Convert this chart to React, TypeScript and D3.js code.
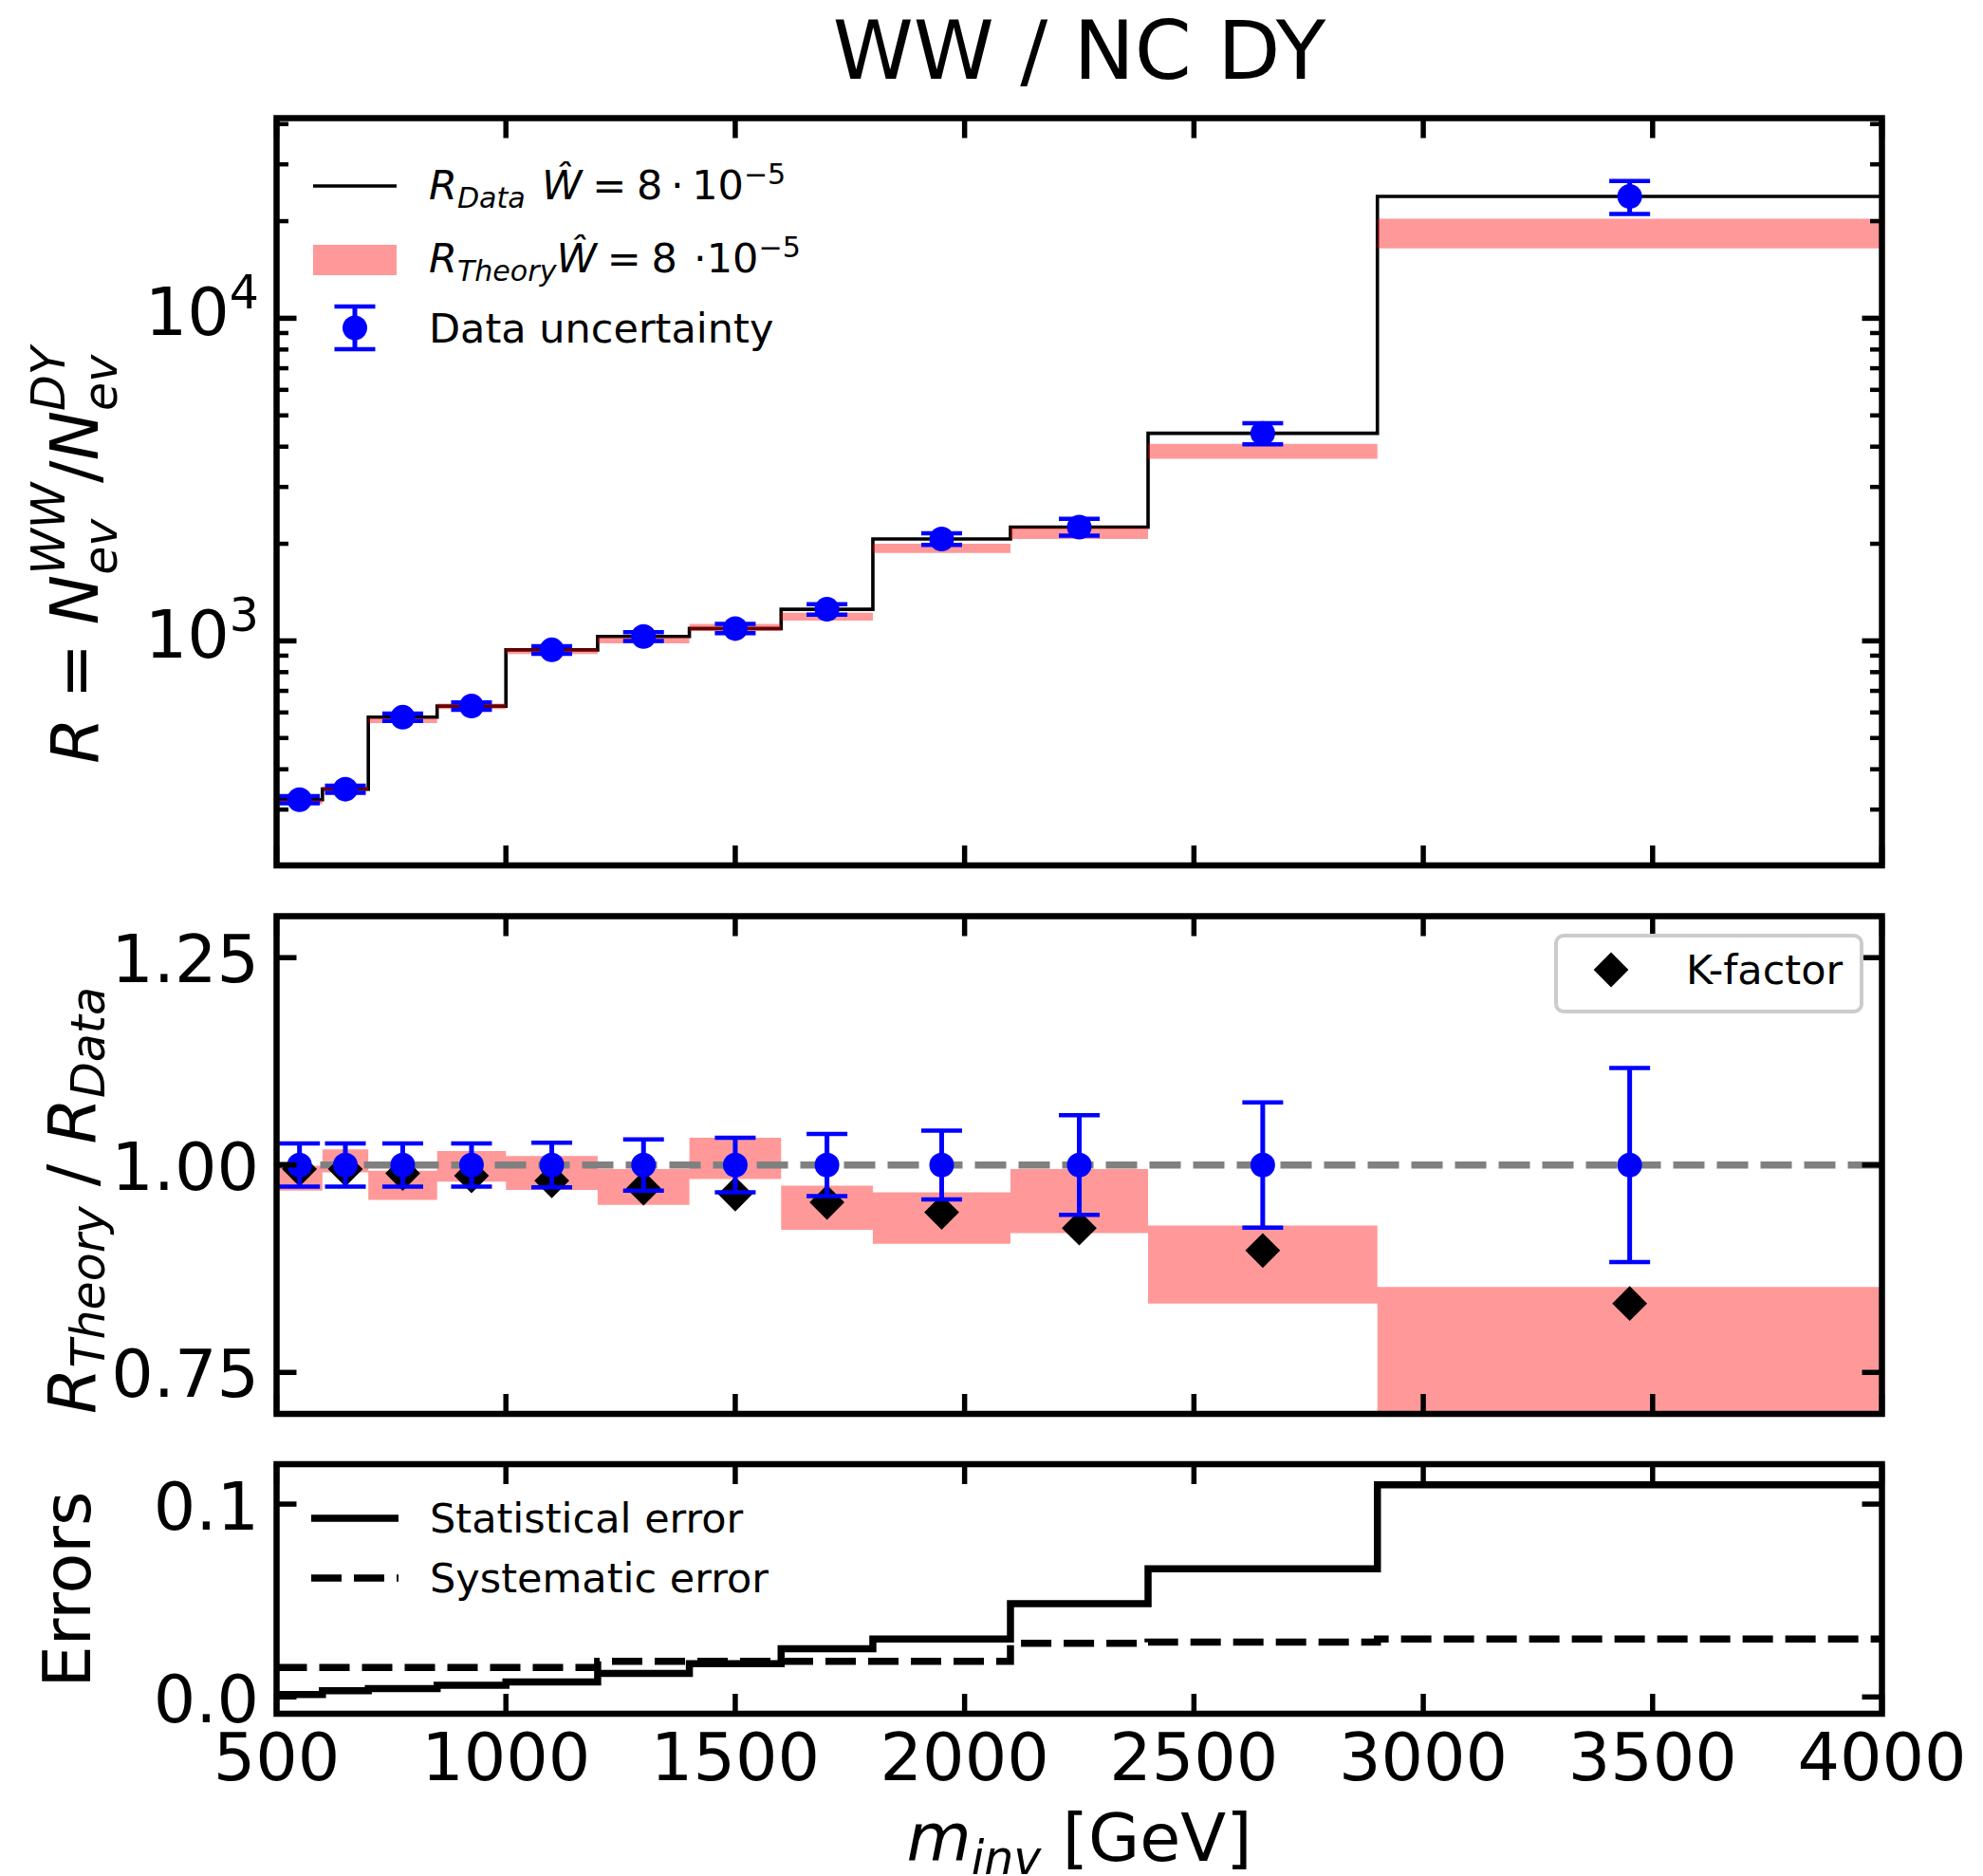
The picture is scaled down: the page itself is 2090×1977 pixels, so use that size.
import React from 'react';
import * as d3 from 'd3';

// ---------------- data ----------------
const binEdges = [500, 600, 700, 850, 1000, 1200, 1400, 1600, 1800, 2100, 2400, 2900, 4000];
const binCenters = [550, 650, 775, 925, 1100, 1300, 1500, 1700, 1950, 2250, 2650, 3450];
const rData = [322, 347, 580, 628, 938, 1032, 1092, 1253, 2070, 2253, 4400, 23850];
const rDataErr = [8.4, 9.0, 15.1, 16.3, 25.3, 32, 36, 47, 86, 135, 332, 2790];
const rTheoryLo = [312, 344, 556, 615, 910, 982, 1073, 1155, 1873, 2068, 3665, 16460];
const rTheoryHi = [322, 354, 576, 639, 948, 1027, 1128, 1222, 2002, 2242, 4079, 20340];
const ratioLo = [0.969, 0.991, 0.958, 0.98, 0.97, 0.952, 0.983, 0.922, 0.905, 0.918, 0.833, 0.69];
const ratioHi = [0.999, 1.019, 0.993, 1.017, 1.011, 0.995, 1.033, 0.975, 0.967, 0.995, 0.927, 0.853];
const dataRatio = [1, 1, 1, 1, 1, 1, 1, 1, 1, 1, 1, 1];
const dataRelErr = [0.026, 0.026, 0.026, 0.026, 0.027, 0.031, 0.033, 0.0375, 0.0415, 0.06, 0.0755, 0.117];
const kFactor = [0.995, 0.995, 0.99, 0.987, 0.981, 0.972, 0.965, 0.955, 0.943, 0.924, 0.897, 0.833];
const statErr = [0.0013, 0.0032, 0.0044, 0.006, 0.0078, 0.0122, 0.0172, 0.025, 0.03, 0.0484, 0.0664, 0.11];
const sysErr = [0.0153, 0.0153, 0.0153, 0.0153, 0.0153, 0.0185, 0.0185, 0.0185, 0.0185, 0.0278, 0.0285, 0.03];
const xTicks = [500, 1000, 1500, 2000, 2500, 3000, 3500, 4000];
const ratioTicks = [0.75, 1.0, 1.25];
const errTicks = [0.0, 0.1];
const logMajor = [1000, 10000];

// ---------------- layout ----------------
const W = 2090, H = 1977;
const X0 = 291.5, X1 = 1983.5;
const T1 = 124.5, B1 = 912;
const T2 = 965.5, B2 = 1490;
const T3 = 1543, B3 = 1806;
const FONT = 'DejaVu Sans';
const TICKF = 70;
const LEGF = 43;

const x = d3.scaleLinear().domain([500, 4000]).range([X0, X1]);
const yR = d3.scaleLog().domain([201.4, 41720]).range([B1, T1]);
const yQ = d3.scaleLinear().domain([0.7, 1.3]).range([B2, T2]);
const yE = d3.scaleLinear().domain([-0.0087, 0.1207]).range([B3, T3]);

// ---------------- math text helper ----------------
let _ctx: CanvasRenderingContext2D | null = null;
function textWidth(t: string, size: number, italic: boolean) {
  if (!_ctx) {
    const c = document.createElement('canvas');
    _ctx = c.getContext('2d');
  }
  if (!_ctx) return t.length * size * 0.6;
  _ctx.font = `${italic ? 'italic ' : ''}${size}px "${FONT}"`;
  return _ctx.measureText(t).width;
}
type Seg = { t?: string; it?: boolean; sc?: number; sh?: number; g?: number; gap?: number };
function layoutMath(segs: Seg[], F: number) {
  let cx = 0;
  const out: any[] = [];
  let i = 0;
  while (i < segs.length) {
    const g = segs[i].g;
    let j = i;
    let maxW = 0;
    do {
      const s = segs[j];
      if (s.gap !== undefined) {
        maxW = Math.max(maxW, s.gap * F);
      } else {
        const size = F * (s.sc ?? 1);
        const w = textWidth(s.t || '', size, !!s.it);
        out.push({ ...s, x: cx, size, w });
        maxW = Math.max(maxW, w);
      }
      j++;
    } while (g !== undefined && j < segs.length && segs[j].g === g);
    cx += maxW;
    i = j;
  }
  return { items: out, width: cx };
}
function MathText({ segs, F, x: px, y: py, anchor = 'start', rotate = 0 }: any) {
  const { items, width } = layoutMath(segs, F);
  const off = anchor === 'middle' ? -width / 2 : anchor === 'end' ? -width : 0;
  return (
    <g transform={`translate(${px},${py}) rotate(${rotate})`}>
      {items.map((it: any, k: number) => (
        <text key={k} x={off + it.x} y={-(it.sh ?? 0) * F} fontSize={it.size}
          fontStyle={it.it ? 'italic' : 'normal'} fontFamily={FONT} fill="#000">{it.t}</text>
      ))}
    </g>
  );
}

// ---------------- pieces ----------------
function Ticks({ y, yTicks, yMinor = [] as number[], top, bottom }: any) {
  const LM = 21, Lm = 12.5;
  const els: any[] = [];
  xTicks.forEach((v, i) => {
    const px = x(v);
    els.push(<line key={'xb' + i} x1={px} x2={px} y1={bottom} y2={bottom - LM} stroke="#000" strokeWidth={5.5} />);
    els.push(<line key={'xt' + i} x1={px} x2={px} y1={top} y2={top + LM} stroke="#000" strokeWidth={5.5} />);
  });
  yTicks.forEach((v: number, i: number) => {
    const py = y(v);
    els.push(<line key={'yl' + i} x1={X0} x2={X0 + LM} y1={py} y2={py} stroke="#000" strokeWidth={5.5} />);
    els.push(<line key={'yr' + i} x1={X1} x2={X1 - LM} y1={py} y2={py} stroke="#000" strokeWidth={5.5} />);
  });
  yMinor.forEach((v: number, i: number) => {
    const py = y(v);
    els.push(<line key={'ml' + i} x1={X0} x2={X0 + Lm} y1={py} y2={py} stroke="#000" strokeWidth={4.5} />);
    els.push(<line key={'mr' + i} x1={X1} x2={X1 - Lm} y1={py} y2={py} stroke="#000" strokeWidth={4.5} />);
  });
  return <g>{els}</g>;
}

function Frame({ top, bottom }: any) {
  return <rect x={X0} y={top} width={X1 - X0} height={bottom - top} fill="none" stroke="#000" strokeWidth={6.5} />;
}

function ErrorBars({ y, vals, errs }: any) {
  return (
    <g>
      {binCenters.map((c, i) => {
        const px = x(c);
        const yt = y(vals[i] + errs[i]);
        const yb = y(vals[i] - errs[i]);
        return (
          <g key={i}>
            <line x1={px} x2={px} y1={yt} y2={yb} stroke="#0000ff" strokeWidth={5} />
            <line x1={px - 21.5} x2={px + 21.5} y1={yt} y2={yt} stroke="#0000ff" strokeWidth={4.5} />
            <line x1={px - 21.5} x2={px + 21.5} y1={yb} y2={yb} stroke="#0000ff" strokeWidth={4.5} />
            <circle cx={px} cy={y(vals[i])} r={13} fill="#0000ff" />
          </g>
        );
      })}
    </g>
  );
}

const stepLine = (y: any, vals: number[]) =>
  d3.line<number>()
    .x((_, i) => x(binEdges[i]))
    .y((_, i) => y(vals[Math.min(i, vals.length - 1)]))
    .curve(d3.curveStepAfter)(binEdges) as string;

const stepArea = (y: any, lo: number[], hi: number[]) =>
  d3.area<number>()
    .x((_, i) => x(binEdges[i]))
    .y0((_, i) => y(lo[Math.min(i, lo.length - 1)]))
    .y1((_, i) => y(hi[Math.min(i, hi.length - 1)]))
    .curve(d3.curveStepAfter)(binEdges) as string;

const diamondPath = d3.symbol(d3.symbolSquare, 676)() as string;

export default function App() {
  const logMinor = yR.ticks().filter((v) => !logMajor.includes(v));
  const tickLabelX = X0 - 18.5;
  return (
    <div style={{ position: 'absolute', left: 0, top: 0 }}>
      <svg width={W} height={H} viewBox={`0 0 ${W} ${H}`} style={{ display: 'block', background: '#fff' }}>
        <defs>
          <clipPath id="c1"><rect x={X0} y={T1} width={X1 - X0} height={B1 - T1} /></clipPath>
          <clipPath id="c2"><rect x={X0} y={T2} width={X1 - X0} height={B2 - T2} /></clipPath>
          <clipPath id="c3"><rect x={X0} y={T3} width={X1 - X0} height={B3 - T3} /></clipPath>
        </defs>
        <rect x={0} y={0} width={W} height={H} fill="#fff" />

        {/* title */}
        <text x={(X0 + X1) / 2} y={83} fontSize={86} fontFamily={FONT} textAnchor="middle">WW / NC DY</text>

        {/* ---------- panel 1 ---------- */}
        <g clipPath="url(#c1)">
          <path d={stepLine(yR, rData)} fill="none" stroke="#000" strokeWidth={3.6} />
          <path d={stepArea(yR, rTheoryLo, rTheoryHi)} fill="#ff0000" fillOpacity={0.4} />
          <ErrorBars y={yR} vals={rData} errs={rDataErr} />
        </g>
        <Ticks y={yR} yTicks={logMajor} yMinor={logMinor} top={T1} bottom={B1} />
        <Frame top={T1} bottom={B1} />
        {logMajor.map((v, i) => (
          <MathText key={i} F={TICKF} x={tickLabelX} y={yR(v) + 18} anchor="end"
            segs={[{ t: '10' }, { t: String(Math.round(Math.log10(v))), sc: 0.7, sh: 0.4 }]} />
        ))}
        {/* legend 1 */}
        <line x1={330} x2={418} y1={196} y2={196} stroke="#000" strokeWidth={3.6} />
        <MathText F={LEGF} x={452} y={210}
          segs={[{ t: 'R', it: true }, { t: 'Data', it: true, sc: 0.7, sh: -0.2 }, { gap: 0.4 },
            { t: 'Ŵ', it: true }, { gap: 0.25 }, { t: '=' }, { gap: 0.25 }, { t: '8' }, { gap: 0.2 },
            { t: '·' }, { gap: 0.2 }, { t: '10' }, { t: '−5', sc: 0.7, sh: 0.38 }]} />
        <rect x={330} y={258} width={88} height={32} fill="#ff0000" fillOpacity={0.4} />
        <MathText F={LEGF} x={452} y={287}
          segs={[{ t: 'R', it: true }, { t: 'Theory', it: true, sc: 0.7, sh: -0.2 },
            { t: 'Ŵ', it: true }, { gap: 0.25 }, { t: '=' }, { gap: 0.25 }, { t: '8' }, { gap: 0.4 },
            { t: '·' }, { t: '10' }, { t: '−5', sc: 0.7, sh: 0.38 }]} />
        <g>
          <line x1={374} x2={374} y1={323} y2={368} stroke="#0000ff" strokeWidth={5} />
          <line x1={352.5} x2={395.5} y1={323} y2={323} stroke="#0000ff" strokeWidth={4.5} />
          <line x1={352.5} x2={395.5} y1={368} y2={368} stroke="#0000ff" strokeWidth={4.5} />
          <circle cx={374} cy={345.5} r={13} fill="#0000ff" />
        </g>
        <text x={452} y={361} fontSize={LEGF} fontFamily={FONT}>Data uncertainty</text>

        {/* ---------- panel 2 ---------- */}
        <g clipPath="url(#c2)">
          <path d={stepArea(yQ, ratioLo, ratioHi)} fill="#ff0000" fillOpacity={0.4} />
          <line x1={X0} x2={X1} y1={yQ(1)} y2={yQ(1)} stroke="#808080" strokeWidth={7.3} strokeDasharray="33 13" />
          {binCenters.map((c, i) => (
            <path key={i} d={diamondPath} transform={`translate(${x(c)},${yQ(kFactor[i])}) rotate(45)`} fill="#000" />
          ))}
          <ErrorBars y={yQ} vals={dataRatio} errs={dataRelErr} />
        </g>
        <Ticks y={yQ} yTicks={ratioTicks} top={T2} bottom={B2} />
        <Frame top={T2} bottom={B2} />
        {ratioTicks.map((v, i) => (
          <text key={i} x={tickLabelX} y={yQ(v) + 26} fontSize={TICKF} fontFamily={FONT} textAnchor="end">{d3.format('.2f')(v)}</text>
        ))}
        {/* legend 2 */}
        <rect x={1640} y={986} width={322} height={80} rx={8} ry={8} fill="#fff" fillOpacity={0.8} stroke="#cccccc" strokeWidth={4} />
        <path d={diamondPath} transform={`translate(1698,1022) rotate(45)`} fill="#000" />
        <text x={1777} y={1037} fontSize={LEGF} fontFamily={FONT}>K-factor</text>

        {/* ---------- panel 3 ---------- */}
        <g clipPath="url(#c3)">
          <path d={stepLine(yE, statErr)} fill="none" stroke="#000" strokeWidth={7.5} />
          <path d={stepLine(yE, sysErr)} fill="none" stroke="#000" strokeWidth={7.5} strokeDasharray="32 13" />
        </g>
        <Ticks y={yE} yTicks={errTicks} top={T3} bottom={B3} />
        <Frame top={T3} bottom={B3} />
        {errTicks.map((v, i) => (
          <text key={i} x={tickLabelX} y={yE(v) + 27} fontSize={TICKF} fontFamily={FONT} textAnchor="end">{d3.format('.1f')(v)}</text>
        ))}
        {/* legend 3 */}
        <line x1={328} x2={420} y1={1600} y2={1600} stroke="#000" strokeWidth={7.5} />
        <text x={453} y={1615} fontSize={LEGF} fontFamily={FONT}>Statistical error</text>
        <line x1={328} x2={420} y1={1663} y2={1663} stroke="#000" strokeWidth={7.5} strokeDasharray="32 13" />
        <text x={453} y={1678} fontSize={LEGF} fontFamily={FONT}>Systematic error</text>

        {/* x tick labels */}
        {xTicks.map((v, i) => (
          <text key={i} x={x(v)} y={1876} fontSize={TICKF} fontFamily={FONT} textAnchor="middle">{v}</text>
        ))}
        {/* axis labels */}
        <MathText F={TICKF} x={(X0 + X1) / 2} y={1961} anchor="middle"
          segs={[{ t: 'm', it: true }, { t: 'inv', it: true, sc: 0.7, sh: -0.2 }, { gap: 0.32 }, { t: '[GeV]' }]} />
        <MathText F={TICKF} x={103} y={585} anchor="middle" rotate={-90}
          segs={[{ t: 'R', it: true }, { gap: 0.28 }, { t: '=' }, { gap: 0.28 }, { t: 'N', it: true },
            { t: 'ev', it: true, sc: 0.7, sh: -0.29, g: 1 }, { t: 'WW', it: true, sc: 0.7, sh: 0.5, g: 1 },
            { t: '/' }, { t: 'N', it: true },
            { t: 'ev', it: true, sc: 0.7, sh: -0.29, g: 2 }, { t: 'DY', it: true, sc: 0.7, sh: 0.5, g: 2 }]} />
        <MathText F={TICKF} x={100} y={1265} anchor="middle" rotate={-90}
          segs={[{ t: 'R', it: true }, { t: 'Theory', it: true, sc: 0.7, sh: -0.14 }, { gap: 0.3 }, { t: '/' }, { gap: 0.3 },
            { t: 'R', it: true }, { t: 'Data', it: true, sc: 0.7, sh: -0.14 }]} />
        <text transform={`translate(95,1675) rotate(-90)`} fontSize={TICKF} fontFamily={FONT} textAnchor="middle">Errors</text>
      </svg>
    </div>
  );
}
